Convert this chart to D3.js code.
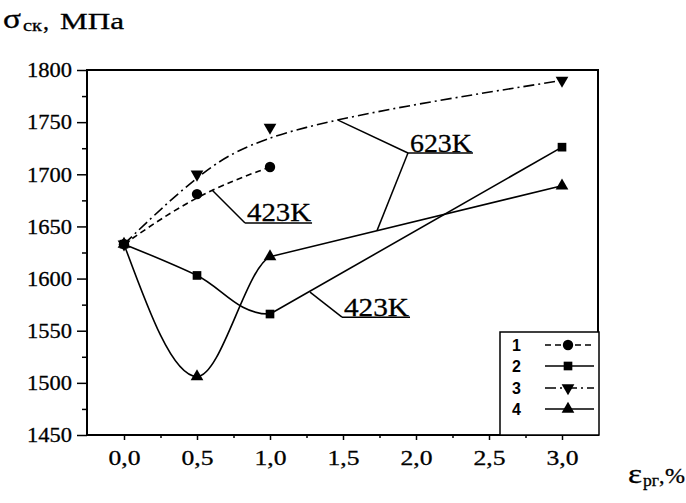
<!DOCTYPE html>
<html><head><meta charset="utf-8">
<script src="https://cdn.jsdelivr.net/npm/d3@7"></script>
<style>body{margin:0;background:#fff}svg{display:block}</style>
</head><body><svg id="c" width="686" height="503"></svg>
<script>
// ---- data ----
const strainShort = [0, 0.5, 1.0];
const strainFull = [0, 0.5, 1.0, 3.0];
const series1 = [1633, 1681, 1707];          // circles, dashed
const series2 = [1633, 1603, 1566, 1726];    // squares, solid
const series3 = [1633, 1700, 1745, 1790];    // down triangles, dash-dot
const series4 = [1633, 1506, 1621, 1689];    // up triangles, solid
const legendLabels = ["1", "2", "3", "4"];
const xTicks = [0, 0.5, 1.0, 1.5, 2.0, 2.5, 3.0];
const yTicks = [1450, 1500, 1550, 1600, 1650, 1700, 1750, 1800];
const annotations = [
  {label: "623K", corner: [1.945, 1720.4], end: [2.39, 1720.4], leaders: [[1.466, 1752], [1.733, 1646]]},
  {label: "423K", corner: [0.829, 1653.3], end: [1.288, 1653.3], leaders: [[0.603, 1685]]},
  {label: "423K", corner: [1.493, 1563], end: [1.959, 1563], leaders: [[1.274, 1587]]}
];

const svg = d3.select("#c");
const x = d3.scaleLinear().domain([0, 3]).range([124, 562]);
const y = d3.scaleLinear().domain([1450, 1800]).range([435, 70]);
const L = 87, R = 598, T = y(1800), B = y(1450);
const serif = "Liberation Serif, Times New Roman, serif";

// clip for curved parts (up to strain 1.0)
svg.append("defs").append("clipPath").attr("id", "left")
  .append("rect").attr("x", 0).attr("y", 0).attr("width", x(1.0)).attr("height", 503);

// frame
svg.append("rect").attr("x", L).attr("y", T).attr("width", R - L).attr("height", B - T)
  .attr("fill", "none").attr("stroke", "#000").attr("stroke-width", 2);

// y axis
const yAxis = d3.axisLeft(y).tickValues(yTicks).tickSize(10).tickSizeOuter(0).tickPadding(5).tickFormat(d3.format("d"));
const gy = svg.append("g").attr("transform", `translate(${L},0)`).call(yAxis);
gy.select(".domain").remove();
gy.selectAll("line").attr("stroke-width", 1.5);
gy.selectAll("text").attr("font-family", serif).attr("font-size", 21).attr("fill", "#000")
  .attr("stroke", "#000").attr("stroke-width", 0.3)
  .attr("textLength", 45).attr("lengthAdjust", "spacingAndGlyphs");
const gyMinor = svg.append("g").attr("transform", `translate(${L},0)`)
  .call(d3.axisLeft(y).tickValues(d3.range(1475, 1800, 50)).tickSize(5).tickFormat(""));
gyMinor.select(".domain").remove();
gyMinor.selectAll("line").attr("stroke-width", 1.5);

// x axis
const xAxis = d3.axisBottom(x).tickValues(xTicks).tickSize(5).tickPadding(10)
  .tickFormat(d => d3.format(".1f")(d).replace(".", ","));
const gx = svg.append("g").attr("transform", `translate(0,${B})`).call(xAxis);
gx.select(".domain").remove();
gx.selectAll("line").attr("stroke-width", 1.5);
gx.selectAll("text").attr("font-family", serif).attr("font-size", 21).attr("fill", "#000")
  .attr("stroke", "#000").attr("stroke-width", 0.3)
  .attr("textLength", 32).attr("lengthAdjust", "spacingAndGlyphs");
const gxMinor = svg.append("g").attr("transform", `translate(0,${B})`)
  .call(d3.axisBottom(x).tickValues([0.25, 0.75, 1.25, 1.75, 2.25, 2.75]).tickSize(3).tickFormat(""));
gxMinor.select(".domain").remove();
gxMinor.selectAll("line").attr("stroke-width", 1.5);

// lines
const mk = (xs, ys) => xs.map((v, i) => [v, ys[i]]);
const d1 = mk(strainShort, series1), d2 = mk(strainFull, series2),
      d3s = mk(strainFull, series3), d4 = mk(strainFull, series4);
const line = c => d3.line().x(d => x(d[0])).y(d => y(d[1])).curve(c);
const g = svg.append("g").attr("fill", "none").attr("stroke", "#000").attr("stroke-width", 1.6);
g.append("path").attr("d", line(d3.curveBasis)(d1)).attr("stroke-dasharray", "6,4");
g.append("path").attr("d", line(d3.curveBasis)(d3s)).attr("stroke-dasharray", "11,4,2,4");
// series 2 & 4: smooth up to 1.0, straight afterwards
g.append("path").attr("d", line(d3.curveCatmullRom)(d2)).attr("clip-path", "url(#left)");
g.append("path").attr("d", line(d3.curveLinear)(d2.slice(2)));
g.append("path").attr("d", line(d3.curveMonotoneX)(d4)).attr("clip-path", "url(#left)");
g.append("path").attr("d", line(d3.curveLinear)(d4.slice(2)));

// markers
const sym = {
  circle: d3.symbol().type(d3.symbolCircle).size(85),
  square: d3.symbol().type(d3.symbolSquare).size(75),
  tri: d3.symbol().type(d3.symbolTriangle).size(70)
};
const mg = svg.append("g").attr("fill", "#000");
d1.forEach(d => mg.append("path").attr("d", sym.circle()).attr("transform", `translate(${x(d[0])},${y(d[1])})`));
d2.forEach(d => mg.append("path").attr("d", sym.square()).attr("transform", `translate(${x(d[0])},${y(d[1])})`));
d3s.forEach(d => mg.append("path").attr("d", sym.tri()).attr("transform", `translate(${x(d[0])},${y(d[1])}) rotate(180)`));
d4.forEach(d => mg.append("path").attr("d", sym.tri()).attr("transform", `translate(${x(d[0])},${y(d[1])})`));

// annotations
const ag = svg.append("g");
annotations.forEach(a => {
  const cx = x(a.corner[0]), cy = y(a.corner[1]);
  a.leaders.forEach(p => ag.append("line").attr("x1", cx).attr("y1", cy).attr("x2", x(p[0])).attr("y2", y(p[1]))
    .attr("stroke", "#000").attr("stroke-width", 1.5));
  ag.append("line").attr("x1", cx).attr("y1", cy).attr("x2", x(a.end[0])).attr("y2", cy)
    .attr("stroke", "#000").attr("stroke-width", 1.5);
  ag.append("text").attr("x", cx + 2).attr("y", cy - 1.5).text(a.label)
    .attr("font-family", serif).attr("font-size", 25).attr("stroke", "#000").attr("stroke-width", 0.3)
    .attr("textLength", x(a.end[0]) - cx - 3).attr("lengthAdjust", "spacingAndGlyphs");
});

// legend
const lg = svg.append("g");
lg.append("rect").attr("x", 500).attr("y", 332).attr("width", 99).attr("height", B - 332)
  .attr("fill", "#fff").attr("stroke", "#000").attr("stroke-width", 1.5);
const rowsY = [345, 366, 388, 409];
const legendStyles = [
  {dash: "6,4", m: "circle", rot: 0},
  {dash: null, m: "square", rot: 0},
  {dash: "11,4,2,4", m: "tri", rot: 180},
  {dash: null, m: "tri", rot: 0}
];
legendLabels.forEach((lab, i) => {
  const ry = rowsY[i];
  lg.append("text").attr("x", 512).attr("y", ry + 6).text(lab)
    .attr("font-family", "Liberation Sans, Arial, sans-serif").attr("font-weight", "bold").attr("font-size", 16);
  const st = legendStyles[i];
  const ln = lg.append("line").attr("x1", 545).attr("x2", 594).attr("y1", ry).attr("y2", ry)
    .attr("stroke", "#000").attr("stroke-width", 1.6);
  if (st.dash) ln.attr("stroke-dasharray", st.dash);
  lg.append("path").attr("d", sym[st.m]()).attr("transform", `translate(568,${ry}) rotate(${st.rot})`);
});

// axis titles
const txt = (xx, yy, size, s, len) => {
  const e = svg.append("text").attr("x", xx).attr("y", yy).attr("font-family", serif)
    .attr("font-size", size).attr("stroke", "#000").attr("stroke-width", 0.3).text(s);
  if (len) e.attr("textLength", len).attr("lengthAdjust", "spacingAndGlyphs");
  return e;
};
txt(3, 28, 28, "σ", 18);
txt(23, 31, 17, "ск", 19);
txt(43, 29, 24, ",");
txt(60, 29, 24, "МПа", 64);

txt(628, 483, 27, "ε", 14);
txt(643, 486, 16, "рг", 16);
txt(659, 483, 22, ",");
txt(665, 483, 21, "%", 20);
</script></body></html>
